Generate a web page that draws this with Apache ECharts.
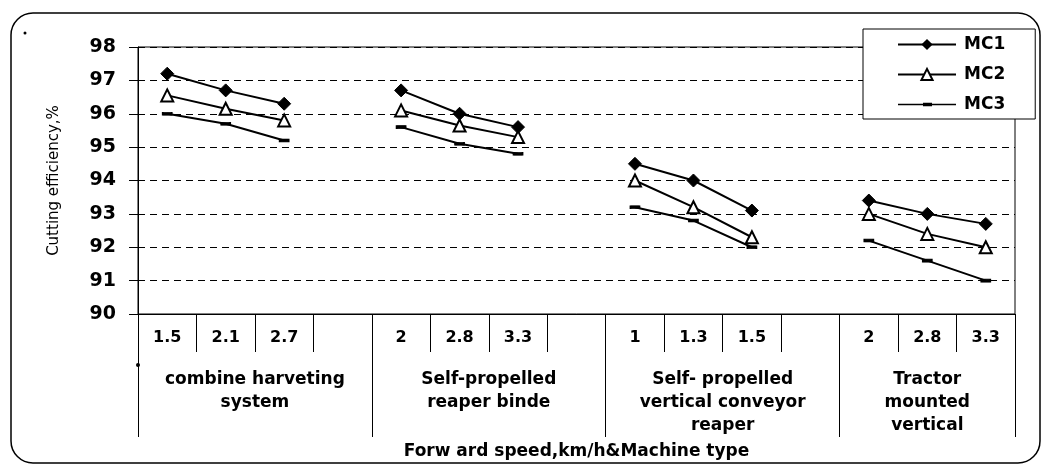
<!DOCTYPE html>
<html>
<head>
<meta charset="utf-8">
<script src="https://cdn.jsdelivr.net/npm/echarts@6/dist/echarts.min.js"></script>
<style>
  html, body { margin: 0; padding: 0; background: #fff; }
  #container { width: 1045px; height: 467px; }
</style>
</head>
<body>
<div id="container"></div>
<script>
// speed per slot, empty slot separates machine groups
const speeds = ['1.5', '2.1', '2.7', '', '2', '2.8', '3.3', '', '1', '1.3', '1.5', '', '2', '2.8', '3.3'];
const machineTypes = [
  'combine harveting\nsystem',
  'Self-propelled\nreaper binde',
  'Self- propelled\nvertical conveyor\nreaper',
  'Tractor\nmounted\nvertical'
];
// where each machine label sits / where group dividers go (in slot units)
const groupCenters = [2, 6, 10, 13.5];
const groupEdges = [0, 4, 8, 12, 15];

const mc1 = [97.2, 96.7, 96.3, null, 96.7, 96.0, 95.6, null, 94.5, 94.0, 93.1, null, 93.4, 93.0, 92.7];
const mc2 = [96.55, 96.15, 95.8, null, 96.1, 95.65, 95.3, null, 94.0, 93.2, 92.3, null, 93.0, 92.4, 92.0];
const mc3 = [96.0, 95.7, 95.2, null, 95.6, 95.1, 94.8, null, 93.2, 92.8, 92.0, null, 92.2, 91.6, 91.0];

const font = 'DejaVu Sans';

let mychart = echarts.init(document.getElementById('container'));

let options = {
  animation: false,
  backgroundColor: '#fff',
  textStyle: { fontFamily: font, color: '#000' },
  graphic: [
    {
      type: 'rect',
      shape: { x: 11, y: 13, width: 1029, height: 450, r: 22 },
      style: { fill: 'none', stroke: '#000', lineWidth: 1.5 },
      silent: true
    },
    // little specks that sit in the scan
    { type: 'circle', shape: { cx: 25, cy: 33, r: 1.5 }, style: { fill: '#000' }, silent: true },
    { type: 'circle', shape: { cx: 138, cy: 365, r: 2 }, style: { fill: '#000' }, silent: true }
  ],
  legend: {
    orient: 'vertical',
    left: 863,
    top: 29,
    padding: [7, 30, 6, 34],
    borderColor: '#000',
    borderWidth: 1,
    backgroundColor: '#fff',
    itemWidth: 58,
    itemHeight: 14,
    itemGap: 13,
    textStyle: { fontFamily: font, fontSize: 17, fontWeight: 'bold', color: '#000', padding: [0, 0, 0, 3] },
    data: [
      'MC1',
      'MC2',
      { name: 'MC3', icon: 'path://M0,6L58,6L58,7.5L0,7.5Z M25,5L34,5L34,8.5L25,8.5Z' }
    ]
  },
  grid: {
    left: 138,
    right: 30,
    top: 47,
    bottom: 153,
    show: true,
    borderColor: '#000',
    borderWidth: 1
  },
  xAxis: [
    {
      type: 'category',
      data: speeds,
      boundaryGap: true,
      axisLine: { lineStyle: { color: '#000', width: 1 } },
      axisTick: { show: true, interval: 0, length: 38, lineStyle: { color: '#000' } },
      axisLabel: { interval: 0, color: '#000', fontFamily: font, fontSize: 16, fontWeight: 'bold', margin: 16 },
      splitLine: { show: false },
      name: 'Forw ard speed,km/h&Machine type',
      nameLocation: 'middle',
      nameGap: 129,
      nameTextStyle: { fontFamily: font, fontSize: 17, fontWeight: 'bold', color: '#000' }
    },
    {
      type: 'value',
      min: 0,
      max: 15,
      position: 'bottom',
      axisLine: { show: false },
      axisTick: {
        show: true,
        customValues: groupEdges,
        length: 123,
        lineStyle: { color: '#000' }
      },
      axisLabel: {
        customValues: groupCenters,
        formatter: v => machineTypes[groupCenters.indexOf(v)] || '',
        color: '#000',
        fontFamily: font,
        fontSize: 17,
        fontWeight: 'bold',
        lineHeight: 23,
        margin: 54
      },
      splitLine: { show: false }
    }
  ],
  yAxis: {
    type: 'value',
    min: 90,
    max: 98,
    interval: 1,
    name: 'Cutting efficiency,%',
    nameLocation: 'middle',
    nameGap: 76,
    nameTextStyle: { fontFamily: font, fontSize: 15, color: '#000' },
    axisLine: { show: true, lineStyle: { color: '#000', width: 1 } },
    axisTick: { show: true, length: 9, lineStyle: { color: '#000' } },
    axisLabel: { color: '#000', fontFamily: font, fontSize: 19, fontWeight: 'bold', margin: 22 },
    splitLine: { show: true, lineStyle: { color: '#000', type: [7, 5], width: 1 } }
  },
  series: [
    {
      name: 'MC1',
      type: 'line',
      data: mc1,
      connectNulls: false,
      symbol: 'diamond',
      symbolSize: 13,
      lineStyle: { color: '#000', width: 2 },
      itemStyle: { color: '#000', borderColor: '#000' }
    },
    {
      name: 'MC2',
      type: 'line',
      data: mc2,
      connectNulls: false,
      symbol: 'triangle',
      symbolSize: 12,
      lineStyle: { color: '#000', width: 2 },
      itemStyle: { color: '#fff', borderColor: '#000', borderWidth: 2 }
    },
    {
      name: 'MC3',
      type: 'line',
      data: mc3,
      connectNulls: false,
      symbol: 'rect',
      symbolSize: [9, 3],
      lineStyle: { color: '#000', width: 2 },
      itemStyle: { color: '#000', borderColor: '#000' }
    }
  ]
};

mychart.setOption(options);
window.addEventListener('resize', () => { mychart.resize() });
</script>
</body>
</html>
